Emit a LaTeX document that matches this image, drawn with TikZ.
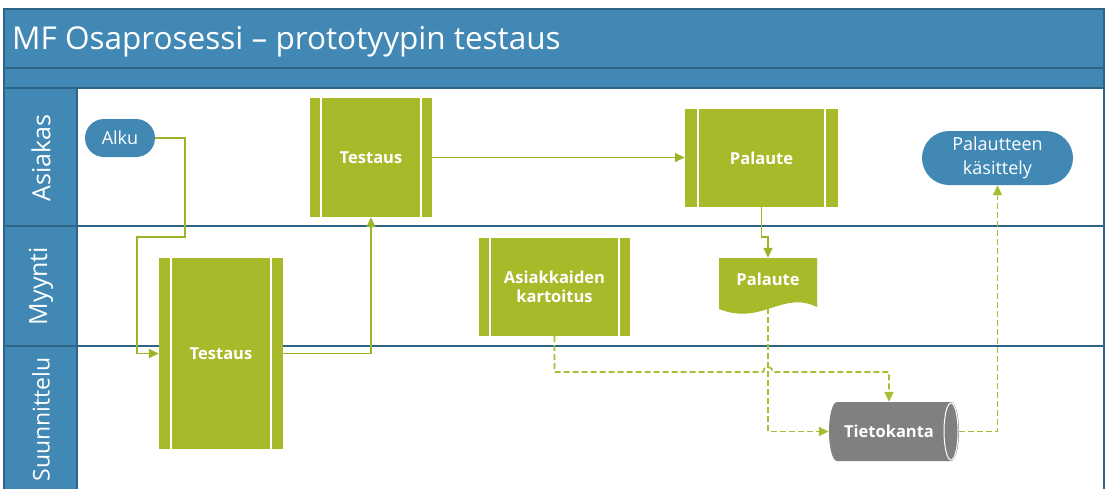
\documentclass[tikz,border=0pt]{standalone}
\usepackage{fontspec}
\setmainfont{Open Sans}
\usetikzlibrary{arrows.meta,calc}
\definecolor{hdr}{HTML}{4189B4}
\definecolor{hdrline}{HTML}{2E6587}
\definecolor{grn}{HTML}{A8B92A}
\definecolor{conn}{HTML}{9DB42A}
\definecolor{dconn}{HTML}{A5BE34}
\definecolor{cyl}{HTML}{808080}
\tikzset{
  pproc/.style={fill=grn, text=white, inner sep=0pt, align=center,
    font=\bfseries\fontsize{16.5}{19}\selectfont,
    path picture={
      \draw[white,line width=1.3pt]
        ([xshift=#1]path picture bounding box.north west) -- ([xshift=#1]path picture bounding box.south west)
        ([xshift=-#1]path picture bounding box.north east) -- ([xshift=-#1]path picture bounding box.south east);
    }},
  pill/.style={fill=hdr, text=white, inner sep=0pt, align=center,
    font=\fontsize{18}{24}\selectfont},
  lanelbl/.style={rotate=90, text=white, inner sep=0pt, font=\fontsize{25}{28}\selectfont},
  conn/.style={draw=conn, line width=1.7pt, -{Triangle[length=10pt,width=9pt]}},
  dconn/.style={draw=dconn, line width=1.7pt, dash pattern=on 6pt off 3pt, -{Triangle[length=10pt,width=9pt]}},
}
\begin{document}
\begin{tikzpicture}[x=1pt,y=-1pt]
\useasboundingbox (0,0) rectangle (1109,488);
% header
\fill[hdr] (4,9) rectangle (1104,88);
\fill[hdr] (4,88) rectangle (77,492);
\draw[hdrline,line width=1.3pt] (4,492) -- (4,9) -- (1104,9) -- (1104,492);
\draw[hdrline,line width=1.3pt] (4,68) -- (1104,68);
\draw[hdrline,line width=1.3pt] (4,88) -- (1104,88);
\draw[hdrline,line width=1.3pt] (77,88) -- (77,492);
\draw[hdrline,line width=1.5pt] (4,226) -- (1104,226);
\draw[hdrline,line width=1.5pt] (4,346) -- (1104,346);
\node[anchor=base west, text=white, inner sep=0pt, font=\fontsize{31.5}{34}\selectfont] (title) at (12,49) {MF Osaprosessi – prototyypin testaus};
% lane labels
\node[lanelbl] (l1) at (41,158) {Asiakas};
\node[lanelbl] (l2) at (41,286) {Myynti};
\node[lanelbl, anchor=east, font=\fontsize{23}{26}\selectfont] (l3) at (41,357) {Suunnittelu};
% nodes
\node[pill, minimum width=70pt, minimum height=38pt, rounded corners=19pt] (alku) at (120,138) {Alku};
\node[pill, minimum width=151pt, minimum height=54pt, rounded corners=27pt] (pk) at (997.5,158) {Palautteen\\käsittely};
\node[pproc=11pt, minimum width=122pt, minimum height=119pt] (t1) at (371,157.5) {Testaus};
\node[pproc=12pt, minimum width=124pt, minimum height=191pt] (t2) at (221,353.5) {Testaus};
\node[pproc=13pt, minimum width=153pt, minimum height=98pt] (p1) at (761.5,158) {Palaute};
\node[pproc=11pt, minimum width=151pt, minimum height=98pt] (ak) at (554.5,287) {Asiakkaiden\\kartoitus};
% document shape
\node[minimum width=98pt, minimum height=59pt, inner sep=0pt] (pd) at (768,287.5) {};
\fill[grn] (719,258) -- (817,258) -- (817,307) .. controls (782,290) and (762,326) .. (719,309) -- cycle;
\node[text=white, font=\bfseries\fontsize{16.5}{19}\selectfont, inner sep=0pt] (pdt) at (768,279) {Palaute};
% cylinder
\node[minimum width=130pt, minimum height=59pt, inner sep=0pt] (tk) at (894,431.5) {};
\fill[cyl] (837,402) -- (951,402) arc[start angle=-90,end angle=90,x radius=8,y radius=29.5]
  -- (837,461) arc[start angle=90,end angle=270,x radius=8,y radius=29.5] -- cycle;
\draw[white,line width=1pt] (951,431.5) ellipse[x radius=7,y radius=28.5];
\node[text=white, font=\bfseries\fontsize{16.5}{19}\selectfont, inner sep=0pt] (tkt) at (889,431.5) {Tietokanta};
% connectors
\draw[conn] (alku.east) -| (185,237) -- (137,237) |- (t2.west);
\draw[conn] (t2.east) -| (t1.south);
\draw[conn] (t1.east) -- (p1.west |- t1.east);
\draw[conn] (p1.south) -- ++(0,30) -| (pd.north);
\draw[dconn] (ak.south) |- ($(pd.south |- 0,372)+(-5,0)$) arc[start angle=180,end angle=360,radius=5] -| (tkt |- tk.north);
\draw[dconn] ($(pd.south)+(0,-9)$) |- (tk.west);
\draw[dconn] (tk.east) -| (pk.south);
\end{tikzpicture}
\end{document}
